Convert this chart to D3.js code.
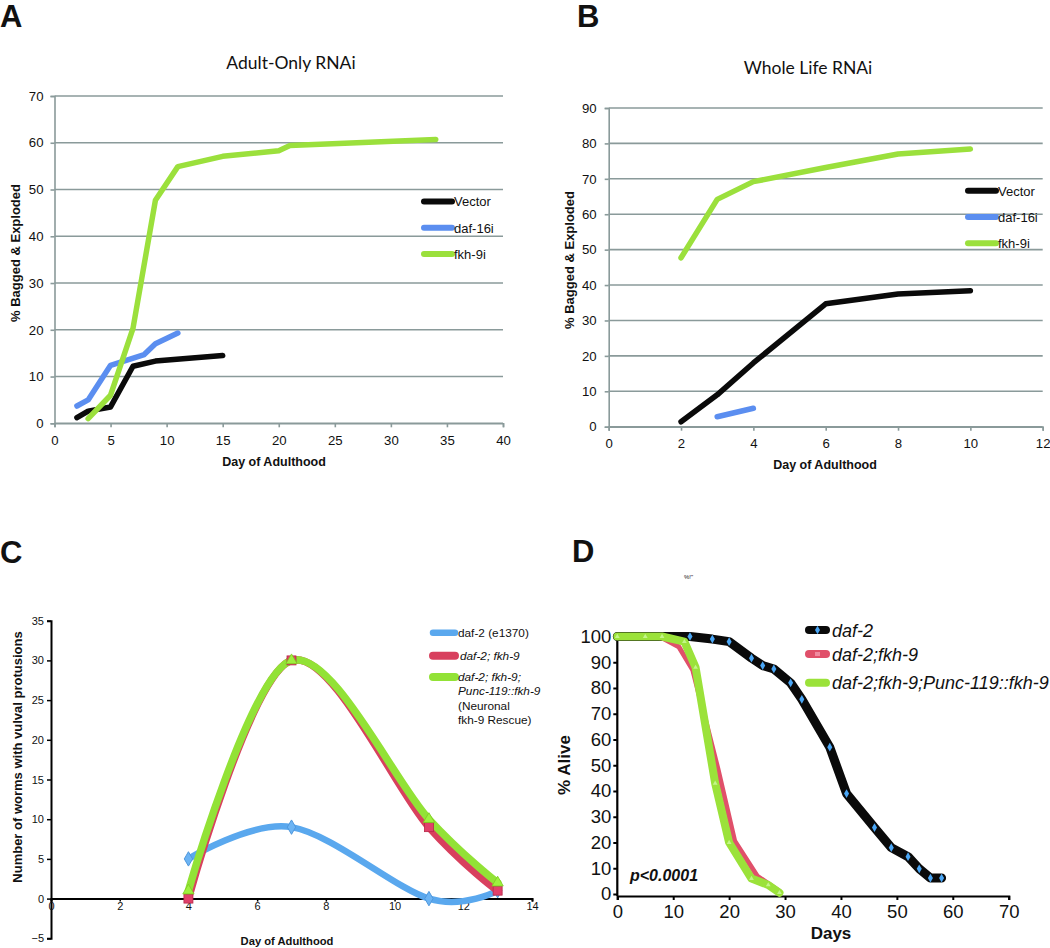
<!DOCTYPE html>
<html>
<head>
<meta charset="utf-8">
<script src="https://cdn.jsdelivr.net/npm/d3@7"></script>
<style>
  body { margin: 0; background: #fff; }
  svg { display: block; }
  text { font-family: "Liberation Sans", Arial, sans-serif; fill: #111; }
</style>
</head>
<body>
<svg id="fig" width="1050" height="948"></svg>
<script>
// ---- Panel A : Adult-Only RNAi ----
const aVectorDays = [2, 3, 5, 7, 9, 15];
const aVector = [1.2, 2.6, 3.5, 12.2, 13.3, 14.5];
const aDaf16Days = [2, 3, 5, 8, 9, 11];
const aDaf16 = [3.7, 5, 12.4, 14.7, 17, 19.3];
const aFkh9Days = [3, 5, 7, 9, 11, 15, 20, 21, 34];
const aFkh9 = [1, 6, 20.3, 47.7, 54.9, 57.1, 58.3, 59.4, 60.7];

// ---- Panel B : Whole Life RNAi ----
const bVectorDays = [2, 3, 4, 6, 8, 10];
const bVector = [1.4, 9, 18, 34.7, 37.5, 38.4];
const bDaf16Days = [3, 4];
const bDaf16 = [2.8, 5.2];
const bFkh9Days = [2, 3, 4, 6, 8, 10];
const bFkh9 = [47.7, 64.2, 69.2, 73.2, 77, 78.4];

// ---- Panel C : vulval protrusions ----
const cDays = [4, 7, 11, 13];
const cDaf2 = [5, 9, 0, 1];
const cDaf2Fkh9 = [0, 30, 9, 1];
const cRescue = [1, 30, 10, 2];

// ---- Panel D : survival ----
const dDaf2Days = [0, 5, 8, 13, 17, 20, 24, 26, 28, 31, 33, 38, 41, 46, 49, 52, 54, 56, 58];
const dDaf2 = [100, 100, 100, 100, 99, 98, 91.6, 88.7, 87.4, 82, 75.6, 57, 39, 25.8, 18, 14.5, 9.8, 6.2, 6.2];
const dFkh9Days = [0, 5, 8, 11, 13.5, 18, 21, 25, 29];
const dFkh9 = [100, 100, 99.5, 96, 87, 48.5, 20.5, 7, 1];
const dRescueDays = [0, 5, 8, 12, 14, 17.5, 20, 24, 27, 29];
const dRescue = [100, 100, 100, 98, 88, 43, 20, 6, 3.5, 0.5];

const abLegend = ['Vector', 'daf-16i', 'fkh-9i'];
const abColors = ['#0a0a0a', '#5b8ef0', '#9be03c'];
const cColors = ['#5aa8ee', '#d8405e', '#92e236'];
const dColors = ['#0a0a0a', '#e0506a', '#9be23a'];

const svg = d3.select('#fig');
const grid = '#8a9a9a';

function zip(xs, ys) {
  return xs.map((d, i) => [d, ys[i]]);
}

function drawSeries(g, pts, x, y, color, width, curve) {
  const line = d3.line()
    .x(d => x(d[0]))
    .y(d => y(d[1]))
    .curve(curve || d3.curveLinear);
  g.append('path')
    .attr('d', line(pts))
    .attr('fill', 'none')
    .attr('stroke', color)
    .attr('stroke-width', width)
    .attr('stroke-linecap', 'round')
    .attr('stroke-linejoin', 'round');
}

function panelLetter(txt, px, py) {
  svg.append('text').attr('x', px).attr('y', py)
    .attr('font-size', 31).attr('font-weight', 'bold').text(txt);
}

// -----------
// PANELES A Y B (estilo Excel gris)
// -----------
function excelPanel(opts) {
  const x = d3.scaleLinear().domain(opts.xDomain).range(opts.xRange);
  const y = d3.scaleLinear().domain(opts.yDomain).range(opts.yRange);
  const g = svg.append('g');

  // gridlines
  g.selectAll('line.grid').data(opts.yTicks).enter().append('line')
    .attr('x1', opts.xRange[0]).attr('x2', opts.xRange[1])
    .attr('y1', d => y(d)).attr('y2', d => y(d))
    .attr('stroke', grid).attr('stroke-width', 1.6);

  const yAxis = g.append('g').attr('transform', `translate(${opts.xRange[0]},0)`)
    .call(d3.axisLeft(y).tickValues(opts.yTicks).tickSize(4).tickPadding(opts.yPad));
  const xAxis = g.append('g').attr('transform', `translate(0,${opts.yRange[0]})`)
    .call(d3.axisBottom(x).tickValues(opts.xTicks).tickSize(4).tickPadding(opts.xPad));
  [yAxis, xAxis].forEach(a => {
    a.select('.domain').attr('stroke', grid).attr('stroke-width', 1.6);
    a.selectAll('.tick line').attr('stroke', grid).attr('stroke-width', 1.6);
    a.selectAll('.tick text').attr('font-size', 13.2).attr('fill', '#1a1a1a')
      .attr('font-family', '"Liberation Sans", Arial, sans-serif');
  });

  opts.series.forEach((s, i) => {
    drawSeries(g, s, x, y, abColors[i], 5.5);
  });

  // title
  g.append('text').attr('x', opts.titleX).attr('y', opts.titleY)
    .attr('text-anchor', 'middle').attr('font-size', 17.5)
    .style('font-family', 'Lato, "Open Sans", sans-serif').text(opts.title);

  // axis titles
  g.append('text').attr('x', opts.xTitleX).attr('y', opts.xTitleY)
    .attr('text-anchor', 'middle').attr('font-size', 12.5).attr('font-weight', 'bold')
    .text('Day of Adulthood');
  g.append('text')
    .attr('transform', `translate(${opts.yTitleX},${opts.yTitleY}) rotate(-90)`)
    .attr('text-anchor', 'middle').attr('font-size', 13).attr('font-weight', 'bold')
    .text('% Bagged & Exploded');

  // legend
  abLegend.forEach((name, i) => {
    const ly = opts.legY + i * opts.legStep;
    g.append('line').attr('x1', opts.legX).attr('x2', opts.legX + 28)
      .attr('y1', ly).attr('y2', ly)
      .attr('stroke', abColors[i]).attr('stroke-width', 6).attr('stroke-linecap', 'round');
    g.append('text').attr('x', opts.legX + 30).attr('y', ly + 4.8)
      .attr('font-size', 13).text(name);
  });
}

excelPanel({
  xDomain: [0, 40], xRange: [54.5, 503],
  yDomain: [0, 70], yRange: [423.3, 96],
  xTicks: d3.range(0, 41, 5), yTicks: d3.range(0, 71, 10),
  xPad: 8, yPad: 7,
  series: [zip(aVectorDays, aVector), zip(aDaf16Days, aDaf16), zip(aFkh9Days, aFkh9)],
  title: 'Adult-Only RNAi', titleX: 291, titleY: 69,
  xTitleX: 274, xTitleY: 466, yTitleX: 20, yTitleY: 253,
  legX: 424, legY: 201.5, legStep: 26.2
});

excelPanel({
  xDomain: [0, 12], xRange: [608.7, 1042.7],
  yDomain: [0, 90], yRange: [426.7, 108],
  xTicks: d3.range(0, 13, 2), yTicks: d3.range(0, 91, 10),
  xPad: 8, yPad: 8,
  series: [zip(bVectorDays, bVector), zip(bDaf16Days, bDaf16), zip(bFkh9Days, bFkh9)],
  title: 'Whole Life RNAi', titleX: 808, titleY: 74,
  xTitleX: 825, xTitleY: 469, yTitleX: 574, yTitleY: 260,
  legX: 968, legY: 190.7, legStep: 26.3
});

panelLetter('A', 0, 27);
panelLetter('B', 577, 27);
panelLetter('C', 0, 563);
panelLetter('D', 572, 562);

// -----------
// PANEL C
// -----------
(function () {
  const x = d3.scaleLinear().domain([0, 14]).range([51, 532]);
  const y = d3.scaleLinear().domain([-5, 35]).range([938.3, 620.7]);
  const g = svg.append('g');

  const yAxis = g.append('g').attr('transform', `translate(${x(0)},0)`)
    .call(d3.axisLeft(y).tickValues(d3.range(-5, 36, 5)).tickSize(4).tickPadding(3));
  const xAxis = g.append('g').attr('transform', `translate(0,${y(0)})`)
    .call(d3.axisBottom(x).tickValues(d3.range(0, 15, 2)).tickSize(3).tickPadding(1));
  [yAxis, xAxis].forEach(a => {
    a.select('.domain').attr('stroke', '#000').attr('stroke-width', 2);
    a.selectAll('.tick line').attr('stroke', '#000').attr('stroke-width', 1.5);
    a.selectAll('.tick text').attr('font-size', 11).attr('fill', '#111')
      .attr('font-family', '"Liberation Sans", Arial, sans-serif');
  });

  const smooth = d3.curveCatmullRom.alpha(0);
  drawSeries(g, zip(cDays, cDaf2), x, y, cColors[0], 6.5, smooth);
  drawSeries(g, zip(cDays, cDaf2Fkh9), x, y, cColors[1], 7.5, smooth);
  drawSeries(g, zip(cDays, cRescue), x, y, cColors[2], 7.5, smooth);

  // markers
  g.selectAll('path.mk0').data(zip(cDays, cDaf2)).enter().append('path')
    .attr('d', d3.symbol(d3.symbolDiamond, 60))
    .attr('transform', d => `translate(${x(d[0])},${y(d[1])})`)
    .attr('fill', '#6cb4f4').attr('stroke', '#4f97dc').attr('stroke-width', 1);
  g.selectAll('rect.mk1').data(zip(cDays, cDaf2Fkh9)).enter().append('rect')
    .attr('x', d => x(d[0]) - 4.5).attr('y', d => y(d[1]) - 4.5)
    .attr('width', 9).attr('height', 9)
    .attr('fill', '#e0406a').attr('stroke', '#b82848').attr('stroke-width', 0.8);
  g.selectAll('path.mk2').data(zip(cDays, cRescue)).enter().append('path')
    .attr('d', d3.symbol(d3.symbolTriangle, 55))
    .attr('transform', d => `translate(${x(d[0])},${y(d[1])})`)
    .attr('fill', '#9ef03e').attr('stroke', '#7ccc20').attr('stroke-width', 0.8);

  g.append('text').attr('x', 287).attr('y', 945)
    .attr('text-anchor', 'middle').attr('font-size', 11.2).attr('font-weight', 'bold')
    .text('Day of Adulthood');
  g.append('text')
    .attr('transform', 'translate(22,757) rotate(-90)')
    .attr('text-anchor', 'middle').attr('font-size', 13).attr('font-weight', 'bold')
    .text('Number of worms with vulval protusions');

  // legend
  const legY = [632.7, 655.7, 677];
  legY.forEach((ly, i) => {
    g.append('line').attr('x1', 433).attr('x2', 455).attr('y1', ly).attr('y2', ly)
      .attr('stroke', cColors[i]).attr('stroke-width', i === 0 ? 6.5 : 8)
      .attr('stroke-linecap', 'round');
  });
  g.append('text').attr('x', 458).attr('y', legY[0] + 4).attr('font-size', 11.8)
    .text('daf-2 (e1370)');
  g.append('text').attr('x', 460).attr('y', legY[1] + 4).attr('font-size', 11.8)
    .attr('font-style', 'italic').text('daf-2; fkh-9');
  const lines = [['daf-2; fkh-9;', true], ['Punc-119::fkh-9', true], ['(Neuronal', false], ['fkh-9 Rescue)', false]];
  lines.forEach((l, i) => {
    g.append('text').attr('x', 458).attr('y', legY[2] + 4 + i * 14.3)
      .attr('font-size', 11.8).attr('font-style', l[1] ? 'italic' : 'normal').text(l[0]);
  });
})();

// -----------
// PANEL D
// -----------
(function () {
  const x = d3.scaleLinear().domain([0, 70]).range([617.3, 1008.7]);
  const y = d3.scaleLinear().domain([0, 100]).range([894, 636.5]);
  const g = svg.append('g');

  const yAxis = g.append('g').attr('transform', `translate(${x(0)},0)`)
    .call(d3.axisLeft(y).tickValues(d3.range(0, 101, 10)).tickSize(4).tickPadding(2));
  const xAxis = g.append('g').attr('transform', 'translate(0,896)')
    .call(d3.axisBottom(x).tickValues(d3.range(0, 71, 10)).tickSize(4).tickPadding(4));
  yAxis.select('.domain').attr('d', `M0,${y(100) - 2}V896`);
  [yAxis, xAxis].forEach(a => {
    a.select('.domain').attr('stroke', '#000').attr('stroke-width', 2.2);
    a.selectAll('.tick line').attr('stroke', '#000').attr('stroke-width', 2);
    a.selectAll('.tick text').attr('font-size', 18.5).attr('fill', '#111')
      .attr('font-family', '"Liberation Sans", Arial, sans-serif');
  });
  xAxis.selectAll('.tick text').attr('dy', '0.75em');

  drawSeries(g, zip(dDaf2Days, dDaf2), x, y, dColors[0], 9);
  drawSeries(g, zip(dFkh9Days, dFkh9), x, y, dColors[1], 5);
  drawSeries(g, zip(dRescueDays, dRescue), x, y, dColors[2], 8);

  g.selectAll('path.dk').data(zip(dDaf2Days, dDaf2).filter(d => d[0] > 10)).enter().append('path')
    .attr('d', d3.symbol(d3.symbolDiamond, 22))
    .attr('transform', d => `translate(${x(d[0])},${y(d[1])})`)
    .attr('fill', '#4aa6f5');
  g.selectAll('path.dg').data(zip(dRescueDays, dRescue)).enter().append('path')
    .attr('d', d3.symbol(d3.symbolTriangle, 10))
    .attr('transform', d => `translate(${x(d[0])},${y(d[1])})`)
    .attr('fill', '#c4f58a');

  g.append('text').attr('x', 831).attr('y', 939)
    .attr('text-anchor', 'middle').attr('font-size', 17).attr('font-weight', 'bold')
    .text('Days');
  g.append('text')
    .attr('transform', 'translate(570,765) rotate(-90)')
    .attr('text-anchor', 'middle').attr('font-size', 17).attr('font-weight', 'bold')
    .text('% Alive');
  g.append('text').attr('x', 630).attr('y', 881)
    .attr('font-size', 16).attr('font-weight', 'bold').attr('font-style', 'italic')
    .text('p<0.0001');
  g.append('text').attr('x', 684).attr('y', 579)
    .attr('font-size', 6).attr('fill', '#555').text('%!"');

  // legend
  const legNames = ['daf-2', 'daf-2;fkh-9', 'daf-2;fkh-9;Punc-119::fkh-9'];
  const legY = [630, 654, 682.7];
  legNames.forEach((n, i) => {
    g.append('line').attr('x1', 809).attr('x2', 826).attr('y1', legY[i]).attr('y2', legY[i])
      .attr('stroke', dColors[i]).attr('stroke-width', 8).attr('stroke-linecap', 'round');
    g.append('text').attr('x', 832).attr('y', legY[i] + 6.5)
      .attr('font-size', 18).attr('font-style', 'italic').text(n);
  });
  g.append('path').attr('d', d3.symbol(d3.symbolDiamond, 22))
    .attr('transform', `translate(817.5,${legY[0]})`).attr('fill', '#4aa6f5');
  g.append('rect').attr('x', 815).attr('y', legY[1] - 2).attr('width', 5).attr('height', 4)
    .attr('fill', '#f08aa0');
})();
</script>
</body>
</html>
